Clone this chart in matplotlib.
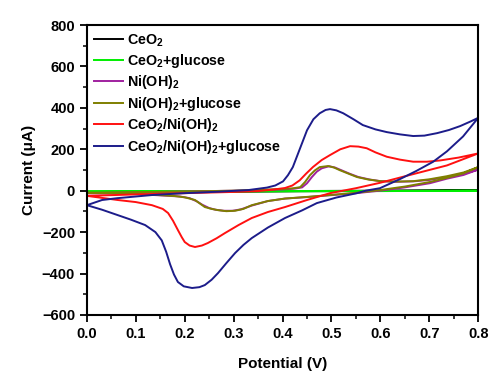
import matplotlib.pyplot as plt
import numpy as np

plt.rcParams["font.family"] = ["Liberation Sans", "DejaVu Sans"]
plt.rcParams["font.weight"] = "bold"
plt.rcParams["mathtext.fontset"] = "custom"
plt.rcParams["mathtext.bf"] = "Liberation Sans:bold"
plt.rcParams["mathtext.rm"] = "Liberation Sans:bold"
plt.rcParams["mathtext.default"] = "bf"

# potential (V) / current (uA), anodic scan then cathodic scan
ceo2_x = [0.0, 0.1, 0.2, 0.3, 0.4, 0.5, 0.6, 0.7, 0.8, 0.7, 0.5, 0.3, 0.1, 0.0]
ceo2_y = [-6, -5, -4, -3, -2, -1, 0, 1, 2, 0, -2, -4, -5, -6]

ceo2_glu_x = [0.0, 0.2, 0.4, 0.6, 0.8, 0.6, 0.4, 0.2, 0.0]
ceo2_glu_y = [-4, -3, -2, -1, 0, -2, -3, -4, -4]

ni_x = [0.0, 0.1, 0.2, 0.3, 0.4, 0.425, 0.44, 0.45, 0.46, 0.47, 0.48, 0.495, 0.507, 0.52,
        0.537, 0.555, 0.578, 0.6, 0.633, 0.667, 0.7, 0.736, 0.77, 0.8,
        0.77, 0.736, 0.701, 0.65, 0.599, 0.55, 0.497, 0.45, 0.405, 0.37, 0.337,
        0.315, 0.298, 0.28, 0.263, 0.25, 0.236, 0.225, 0.21, 0.19, 0.1, 0.0]
ni_y = [-12, -8, -4, 0, 6, 10, 16, 36, 66, 92, 108, 118, 112, 99,
        82, 66, 54, 46, 43, 45, 52, 66, 82, 102,
        76, 58, 36, 16, 0, -12, -22, -31, -38, -50, -72,
        -90, -97, -97, -92, -84, -68, -52, -36, -28, -16, -12]

ni_glu_x = [0.0, 0.1, 0.2, 0.3, 0.4, 0.42, 0.436, 0.446, 0.456, 0.466, 0.476, 0.493, 0.505,
            0.517, 0.535, 0.552, 0.575, 0.6, 0.633, 0.667, 0.7, 0.736, 0.77, 0.8,
            0.77, 0.736, 0.701, 0.65, 0.599, 0.55, 0.497, 0.45, 0.405, 0.37, 0.337,
            0.32, 0.303, 0.285, 0.268, 0.255, 0.241, 0.231, 0.221, 0.2, 0.18, 0.1, 0.0]
ni_glu_y = [-10, -7, -4, 0, 8, 11, 17, 42, 75, 98, 114, 119, 112,
            99, 82, 66, 54, 46, 44, 46, 55, 70, 88, 114,
            84, 62, 42, 20, 3, -10, -21, -30, -38, -50, -70,
            -88, -97, -99, -94, -88, -79, -62, -45, -32, -26, -14, -10]

comp_x = [0.0, 0.1, 0.2, 0.3, 0.35, 0.38, 0.405, 0.42, 0.435, 0.448, 0.462, 0.48, 0.497,
          0.518, 0.538, 0.555, 0.572, 0.59, 0.613, 0.64, 0.667, 0.695, 0.722, 0.76, 0.8,
          0.736, 0.667, 0.599, 0.55, 0.497, 0.45, 0.405, 0.37, 0.337, 0.31, 0.282,
          0.265, 0.247, 0.235, 0.221, 0.21, 0.2, 0.194, 0.186, 0.176, 0.166, 0.155,
          0.133, 0.1, 0.063, 0.0]
comp_y = [-25, -18, -12, -6, -2, 5, 13, 25, 50, 82, 114, 148, 172,
          200, 215, 213, 205, 185, 164, 150, 140, 140, 146, 160, 180,
          122, 80, 38, 12, -12, -45, -79, -103, -132, -166, -205,
          -230, -253, -265, -272, -265, -248, -225, -190, -145, -108, -88,
          -70, -55, -45, -25]

comp_glu_x = [0.0, 0.031, 0.063, 0.133, 0.2, 0.268, 0.33, 0.368, 0.385, 0.401, 0.411, 0.421,
              0.435, 0.45, 0.463, 0.476, 0.488, 0.497, 0.51, 0.524, 0.545, 0.564, 0.59,
              0.613, 0.64, 0.667, 0.69, 0.716, 0.74, 0.763, 0.785, 0.8,
              0.769, 0.736, 0.708, 0.674, 0.64, 0.599, 0.57, 0.552, 0.51, 0.47, 0.44,
              0.405, 0.37, 0.337, 0.32, 0.303, 0.285, 0.268, 0.255, 0.241, 0.23, 0.215,
              0.198, 0.186, 0.178, 0.17, 0.162, 0.153, 0.14, 0.119, 0.09, 0.063, 0.031, 0.0]
comp_glu_y = [-70, -45, -36, -21, -12, -5, 3, 15, 25, 45, 75, 114,
              200, 292, 345, 374, 390, 394, 388, 374, 345, 317, 296,
              283, 272, 264, 266, 278, 293, 312, 335, 352,
              262, 190, 140, 96, 56, 12, 0, -12, -33, -60, -95,
              -132, -178, -229, -262, -301, -350, -398, -430, -456, -466, -470,
              -462, -441, -405, -355, -295, -240, -200, -166, -140, -118, -92, -70]

series = [
    ("CeO$_2$", ceo2_x, ceo2_y, "black"),
    ("CeO$_2$+glucose", ceo2_glu_x, ceo2_glu_y, "#00ee00"),
    ("Ni(OH)$_2$", ni_x, ni_y, "#a0209f"),
    ("Ni(OH)$_2$+glucose", ni_glu_x, ni_glu_y, "#7f7f00"),
    ("CeO$_2$/Ni(OH)$_2$", comp_x, comp_y, "#ff1010"),
    ("CeO$_2$/Ni(OH)$_2$+glucose", comp_glu_x, comp_glu_y, "#1c1c8a"),
]

fig = plt.figure(figsize=(4.91, 3.74), dpi=100)
ax = fig.add_axes([0.177, 0.158, 0.797, 0.775])

for label, x, y, color in series:
    ax.plot(x, y, color=color, lw=1.4, label=label)

ax.set_xlim(0.0, 0.8)
ax.set_ylim(-600, 800)
ax.set_xticks(np.arange(0.0, 0.81, 0.1))
ax.set_xticks(np.arange(0.05, 0.8, 0.1), minor=True)
ax.set_yticks(np.arange(-600, 801, 200))
ax.set_yticks(np.arange(-500, 800, 200), minor=True)
ax.xaxis.set_major_formatter(plt.FuncFormatter(lambda v, p: f"{v:.1f}"))
ax.tick_params(which="major", direction="out", length=5, width=1.3, labelsize=10.5)
ax.tick_params(which="minor", direction="out", length=3, width=1.1)
for spine in ax.spines.values():
    spine.set_linewidth(1.5)

ax.set_xlabel("Potential (V)", fontsize=11, fontweight="bold", labelpad=12)
ax.set_ylabel("Current (μA)", fontsize=11, fontweight="bold", labelpad=4)

leg = ax.legend(loc="upper left", frameon=False, fontsize=10.3, handlelength=2.0,
                handletextpad=0.3, labelspacing=0.24, borderaxespad=0.1)

fig.savefig("out.png", dpi=100)
